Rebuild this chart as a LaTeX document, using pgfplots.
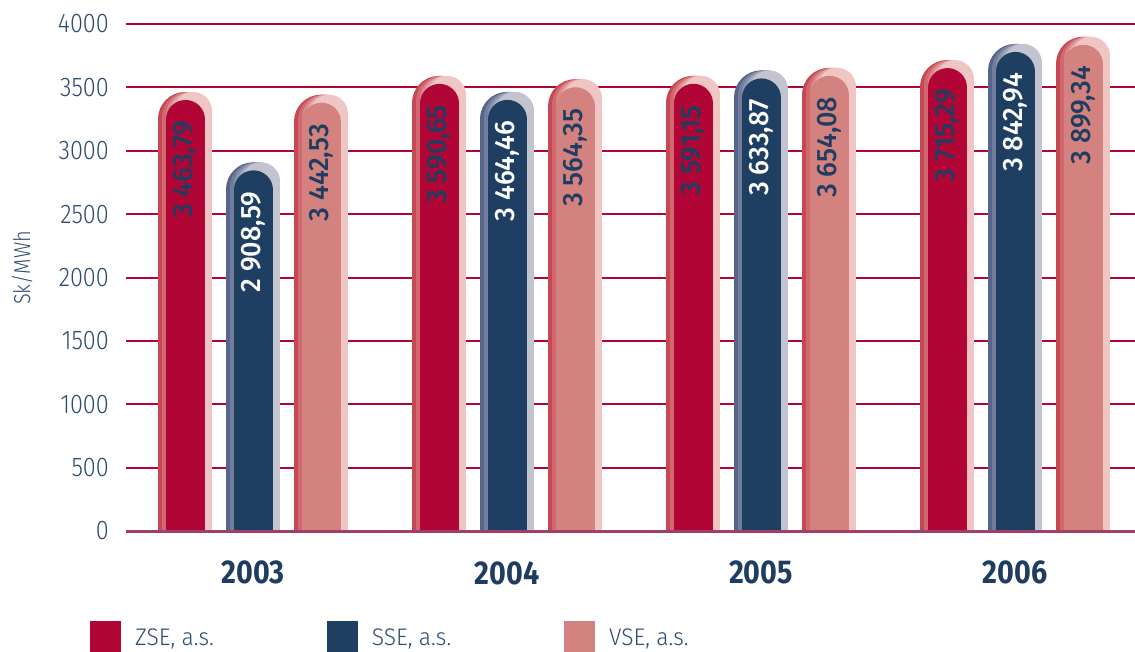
\documentclass[border=0pt]{standalone}
\usepackage{pgfplots}
\pgfplotsset{compat=1.18}
\usepackage{pgfplotstable}
\usepackage{fontspec}
\setmainfont{Fira Sans}
\newfontfamily\lightf{Fira Sans Light}[FakeStretch=0.87]
\newfontfamily\legf{Fira Sans Light}[FakeStretch=0.95]
\newfontfamily\medf{Fira Sans Medium}[FakeStretch=0.96]
\newfontfamily\boldf{Fira Sans}[FakeStretch=0.87]

\definecolor{zse}{HTML}{B00535}
\definecolor{zseL}{HTML}{C64852}
\definecolor{zseR}{HTML}{F0C6C4}
\definecolor{sse}{HTML}{1E3F62}
\definecolor{sseL}{HTML}{56658A}
\definecolor{sseR}{HTML}{C4C4D0}
\definecolor{vse}{HTML}{D4827F}
\definecolor{vseL}{HTML}{C64852}
\definecolor{vseR}{HTML}{F0C6C4}
\definecolor{gridc}{HTML}{B00535}
\definecolor{basec}{HTML}{A0406A}
\definecolor{tickc}{HTML}{2E4C72}
\definecolor{navy}{HTML}{1F3D61}

\pgfplotstableread{
x y
0 3463.79
1 3590.65
2 3591.15
3 3715.29
}\zsedata
\pgfplotstableread{
x y
0 2908.59
1 3464.46
2 3633.87
3 3842.94
}\ssedata
\pgfplotstableread{
x y
0 3442.53
1 3564.35
2 3654.08
3 3899.34
}\vsedata

\pgfplotsset{
  layers/axis lines on top/.define layer set={axis background,axis grid,main,axis ticks,axis lines,axis tick labels,axis descriptions,axis foreground}{/pgfplots/layers/standard},
}

% #1 data, #2 offset, #3 left colour, #4 right colour, #5 main colour, #6 text colour
\newcommand\pillbars[6]{%
 \addplot[forget plot, ycomb, mark=none, draw=#3, line width=54pt, line cap=round, xshift=#2, yshift=-27pt] table {#1};
 \addplot[forget plot, ycomb, mark=none, draw=#3!75!#4, line width=50pt, line cap=round, xshift=#2+2pt, yshift=-25pt] table {#1};
 \addplot[forget plot, ycomb, mark=none, draw=#3!50!#4, line width=46pt, line cap=round, xshift=#2+4pt, yshift=-23pt] table {#1};
 \addplot[forget plot, ycomb, mark=none, draw=#3!25!#4, line width=42pt, line cap=round, xshift=#2+6pt, yshift=-21pt] table {#1};
 \addplot[forget plot, ycomb, mark=none, draw=#4, line width=38pt, line cap=round, xshift=#2+8pt, yshift=-19pt] table {#1};
 \addplot[forget plot, ycomb, mark=none, draw=#5, line width=39pt, line cap=round, xshift=#2+0.5pt, yshift=-27.5pt] table {#1};
 \addplot[forget plot, draw=none, mark=none, xshift=#2+0.5pt, yshift=-29pt, point meta=y,
   nodes near coords={\pgfmathprintnumber[fixed, fixed zerofill, precision=2, use comma, 1000 sep={\ }, assume math mode=true]{\pgfplotspointmeta}},
   nodes near coords style={rotate=90, anchor=east, inner sep=0pt, font=\medf\fontsize{28}{30}\selectfont, text=#6}] table {#1};
}

\begin{document}
\begin{tikzpicture}
\begin{axis}[
  set layers=axis lines on top,
  scale only axis,
  width=1009pt, height=507pt,
  xmin=-0.5, xmax=3.4724,
  ymin=0, ymax=4000,
  clip=true,
  axis x line*=bottom,
  axis y line*=left,
  x axis line style={basec, line width=3pt},
  y axis line style={draw=none},
  major tick length=0pt,
  tick style={draw=none},
  ymajorgrids,
  grid style={gridc, line width=2pt},
  ytick={0,500,...,4000},
  xtick={0,1,2,3},
  xticklabels={2003,2004,2005,2006},
  scaled y ticks=false,
  /pgf/number format/1000 sep={},
  /pgf/number format/assume math mode=true,
  yticklabel style={font=\lightf\fontsize{27}{30}\selectfont, text=tickc, anchor=east, inner sep=0pt, xshift=-17pt},
  xticklabel style={font=\boldf\bfseries\fontsize{33}{36}\selectfont, text=navy, anchor=north, inner sep=0pt, yshift=-30pt},
  ylabel={Sk/MWh},
  every axis y label/.style={at={(axis description cs:-0.1031,0.519)}, rotate=90, anchor=center, font=\lightf\fontsize{23}{26}\selectfont, text=tickc},
  legend image code/.code={\path[#1] (0pt,-14pt) rectangle (31pt,17pt);},
  legend columns=3,
  legend cell align=left,
  legend style={at={(axis description cs:0,0)}, anchor=north west, xshift=-36pt, yshift=-90pt,
    draw=none, fill=none, inner sep=0pt,
    font=\legf\fontsize{24}{26}\selectfont, text=tickc,
    nodes={inner sep=0pt},
    /tikz/every odd column/.append style={column sep=14pt},
    /tikz/every even column/.append style={column sep=113pt}},
]
\pillbars{\zsedata}{-68pt}{zseL}{zseR}{zse}{navy}
\pillbars{\ssedata}{0pt}{sseL}{sseR}{sse}{white}
\pillbars{\vsedata}{68pt}{vseL}{vseR}{vse}{navy}
\addlegendimage{fill=zse, draw=none}
\addlegendentry{ZSE, a.s.}
\addlegendimage{fill=sse, draw=none}
\addlegendentry{SSE, a.s.}
\addlegendimage{fill=vse, draw=none}
\addlegendentry{VSE, a.s.}
\end{axis}
\pgfresetboundingbox
\path[use as bounding box] (-126pt,-120pt) rectangle (1009pt,531pt);
\end{tikzpicture}
\end{document}
